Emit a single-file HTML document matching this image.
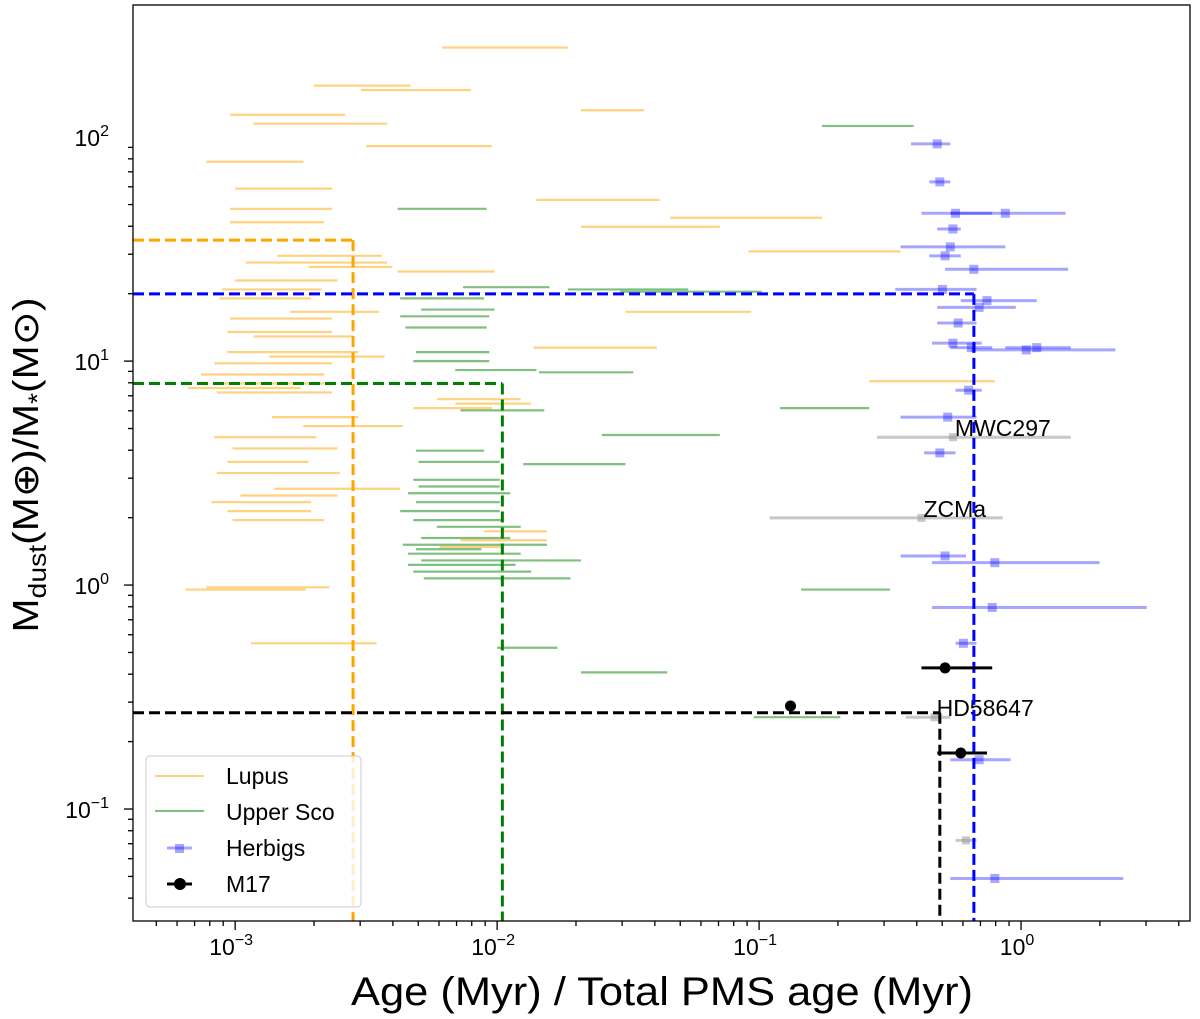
<!DOCTYPE html>
<html><head><meta charset="utf-8">
<style>
html,body{margin:0;padding:0;background:#fff;}
svg{display:block;font-family:"Liberation Sans","DejaVu Sans",sans-serif;}
</style></head>
<body>
<svg id="chart" width="1200" height="1019" viewBox="0 0 1200 1019" xmlns="http://www.w3.org/2000/svg">
<rect x="133" y="5" width="1057" height="916" fill="#fff" stroke="none"/>
<g id="marks"></g>
<rect x="133" y="5" width="1057" height="916" fill="none" stroke="#000" stroke-width="1.3"/>
<g id="axes"></g>
<text x="662" y="1005" font-size="40" text-anchor="middle" textLength="622" lengthAdjust="spacingAndGlyphs">Age (Myr) / Total PMS age (Myr)</text>
<text transform="translate(38,465) rotate(-90)" font-size="36" text-anchor="middle" textLength="335" lengthAdjust="spacingAndGlyphs">M<tspan font-size="25" dy="8">dust</tspan><tspan dy="-8">(M</tspan><tspan>⊕</tspan>)/M<tspan font-size="25" dy="8">*</tspan><tspan dy="-8">(M</tspan>⊙)</text>
<g>
<rect x="146" y="756" width="215" height="151" rx="4" fill="#fff" fill-opacity="0.8" stroke="#ccc"/>
<g><line x1="155" y1="776" x2="204" y2="776" stroke="orange" stroke-opacity="0.5" stroke-width="2"/><text x="226" y="784" font-size="23">Lupus</text></g>
<g><line x1="155" y1="811" x2="204" y2="811" stroke="green" stroke-opacity="0.5" stroke-width="2"/><text x="226" y="820" font-size="23">Upper Sco</text></g>
<g><line x1="167" y1="848" x2="192" y2="848" stroke="blue" stroke-opacity="0.35" stroke-width="3"/><rect x="175" y="844" width="9" height="9" fill="blue" fill-opacity="0.35"/><text x="226" y="856" font-size="23">Herbigs</text></g>
<g><line x1="167" y1="884" x2="192" y2="884" stroke="#000" stroke-width="3"/><circle cx="180" cy="884" r="6" fill="#000"/><text x="226" y="892" font-size="23">M17</text></g>
</g>
</svg>
<script>
// Data in log10 units: x = log10(age ratio), y = log10(Mdust/M*)
const lupusAgeMinLog=[-2.21,-1.68,-2.70,-2.52,-3.02,-2.93,-2.50,-3.11,-3.00,-1.85,-3.02,-1.34,-3.02,-1.68,-1.04,-2.84,-2.96,-2.72,-2.38,-3.00,-3.05,-3.06,-2.79,-3.02,-3.03,-2.93,-1.51,-1.86,-3.03,-2.87,-3.08,-3.13,-3.08,-3.18,-3.07,-0.58,-2.23,-2.16,-2.32,-2.86,-2.74,-3.08,-3.01,-3.03,-3.07,-2.85,-2.98,-3.09,-3.03,-3.01,-2.05,-2.14,-2.22,-3.19,-3.11,-2.94];
const lupusAgeMaxLog=[-1.73,-1.44,-2.33,-2.10,-2.58,-2.42,-2.02,-2.74,-2.63,-1.38,-2.63,-0.76,-2.66,-1.15,-0.46,-2.44,-2.42,-2.40,-2.01,-2.61,-2.67,-2.71,-2.45,-2.63,-2.63,-2.55,-1.03,-1.39,-2.53,-2.43,-2.63,-2.66,-2.66,-2.75,-2.63,-0.10,-1.91,-1.87,-2.02,-2.53,-2.36,-2.69,-2.61,-2.72,-2.60,-2.37,-2.61,-2.71,-2.71,-2.66,-1.81,-1.81,-1.98,-2.73,-2.64,-2.46];
const lupusMassLog=[2.40,2.12,2.23,2.21,2.10,2.06,1.96,1.89,1.77,1.72,1.68,1.64,1.62,1.60,1.49,1.47,1.44,1.42,1.40,1.36,1.32,1.28,1.22,1.19,1.13,1.11,1.22,1.06,1.04,1.02,0.99,0.94,0.90,0.88,0.86,0.91,0.83,0.81,0.79,0.75,0.71,0.66,0.61,0.55,0.50,0.43,0.40,0.37,0.33,0.29,0.24,0.20,0.17,-0.02,-0.01,-0.26];
const uscoAgeMinLog=[-0.76,-2.38,-2.13,-1.73,-1.53,-2.37,-2.29,-2.37,-2.35,-2.31,-2.32,-2.16,-1.84,-0.92,-2.14,-1.60,-2.31,-2.30,-1.90,-2.32,-2.30,-2.34,-2.31,-2.37,-2.32,-2.23,-2.29,-2.36,-2.31,-2.34,-2.29,-2.34,-2.32,-2.28,-0.84,-2.00,-1.68,-1.02];
const uscoAgeMaxLog=[-0.41,-2.04,-1.80,-1.27,-0.99,-2.05,-2.01,-2.03,-2.04,-2.03,-2.03,-1.85,-1.48,-0.58,-1.82,-1.15,-2.05,-1.99,-1.51,-1.99,-1.99,-1.95,-1.99,-1.99,-1.98,-1.91,-1.95,-1.81,-2.06,-1.91,-1.68,-1.93,-1.87,-1.72,-0.50,-1.77,-1.35,-0.69];
const uscoMassLog=[2.05,1.68,1.33,1.32,1.31,1.28,1.23,1.20,1.15,1.04,1.00,0.96,0.95,0.79,0.78,0.67,0.60,0.55,0.54,0.47,0.44,0.41,0.37,0.33,0.29,0.26,0.21,0.18,0.16,0.14,0.11,0.09,0.06,0.03,-0.02,-0.28,-0.39,-0.59];
const herbigAgeLog=[-0.32,-0.31,-0.25,-0.06,-0.26,-0.27,-0.29,-0.18,-0.30,-0.13,-0.16,-0.24,-0.26,-0.19,0.02,0.06,-0.20,-0.28,-0.31,-0.29,-0.10,-0.11,-0.22,-0.16,-0.10];
const herbigAgeMinLog=[-0.42,-0.35,-0.38,-0.27,-0.32,-0.46,-0.35,-0.29,-0.48,-0.23,-0.32,-0.32,-0.34,-0.27,-0.19,-0.06,-0.25,-0.46,-0.37,-0.46,-0.34,-0.34,-0.25,-0.27,-0.27];
const herbigAgeMaxLog=[-0.27,-0.27,-0.11,0.17,-0.23,-0.06,-0.23,0.18,-0.17,0.06,-0.02,-0.17,-0.15,-0.11,0.36,0.19,-0.15,-0.17,-0.25,-0.21,0.30,0.48,-0.17,-0.04,0.39];
const herbigMassLog=[1.97,1.80,1.66,1.66,1.59,1.51,1.47,1.41,1.32,1.27,1.24,1.17,1.08,1.06,1.05,1.06,0.87,0.75,0.59,0.13,0.10,-0.10,-0.26,-0.78,-1.31];
const greyNames=["MWC297","ZCMa","HD58647",""];
const greyAgeLog=[-0.26,-0.38,-0.33,-0.21];
const greyAgeMinLog=[-0.55,-0.96,-0.44,-0.25];
const greyAgeMaxLog=[0.19,-0.07,-0.27,-0.17];
const greyMassLog=[0.66,0.30,-0.59,-1.14];
const m17AgeLog=[-0.88,-0.29,-0.23];
const m17AgeMinLog=[-0.88,-0.38,-0.32];
const m17AgeMaxLog=[-0.88,-0.11,-0.13];
const m17MassLog=[-0.54,-0.37,-0.75];
const medianNames=["lupus","herbig","usco","m17"];
const medianAgeLog=[-2.55,-0.18,-1.98,-0.31];
const medianMassLog=[1.54,1.30,0.90,-0.57];
const medianColors=["orange","blue","green","black"];
const xTickExp=[-3,-2,-1,0];
const yTickExp=[-1,1,2,0];

const NS="http://www.w3.org/2000/svg";
const X0=133,X1=1190,Y0=5,Y1=921;
const xmin=-3.39,xmax=0.645,ymin=-1.50,ymax=2.59;
function sx(l){return X0+(l-xmin)/(xmax-xmin)*(X1-X0);}
function sy(l){return Y1-(l-ymin)/(ymax-ymin)*(Y1-Y0);}
const marks=document.getElementById('marks');
const axes=document.getElementById('axes');
function mk(tag,attrs,parent){const e=document.createElementNS(NS,tag);for(const k in attrs)e.setAttribute(k,attrs[k]);(parent||marks).appendChild(e);return e;}

for(let i=0;i<lupusMassLog.length;i++){
 const e=mk('line',{x1:sx(lupusAgeMinLog[i]),x2:sx(lupusAgeMaxLog[i]),y1:sy(lupusMassLog[i]),y2:sy(lupusMassLog[i]),stroke:'orange','stroke-opacity':0.5,'stroke-width':2.2});
 
 
}
for(let i=0;i<uscoMassLog.length;i++){
 const e=mk('line',{x1:sx(uscoAgeMinLog[i]),x2:sx(uscoAgeMaxLog[i]),y1:sy(uscoMassLog[i]),y2:sy(uscoMassLog[i]),stroke:'green','stroke-opacity':0.5,'stroke-width':2.2});
 
 
}
for(let i=0;i<greyMassLog.length;i++){
 const y=sy(greyMassLog[i]);
 const e=mk('line',{x1:sx(greyAgeMinLog[i]),x2:sx(greyAgeMaxLog[i]),y1:y,y2:y,stroke:'#999','stroke-opacity':0.55,'stroke-width':3});
 
 
 const p=mk('rect',{x:sx(greyAgeLog[i])-4,y:y-4,width:8,height:8,fill:'#999','fill-opacity':0.55});
 
 
 if(greyNames[i]){
  const t=mk('text',{x:sx(greyAgeLog[i])+2,y:y-1,'font-size':23});
  t.textContent=greyNames[i];
  
  
 }
}
for(let i=0;i<herbigMassLog.length;i++){
 const y=sy(herbigMassLog[i]);
 const e=mk('line',{x1:sx(herbigAgeMinLog[i]),x2:sx(herbigAgeMaxLog[i]),y1:y,y2:y,stroke:'blue','stroke-opacity':0.35,'stroke-width':3});
 
 
 const p=mk('rect',{x:sx(herbigAgeLog[i])-4.5,y:y-4.5,width:9,height:9,fill:'blue','fill-opacity':0.35});
 
 
}
for(let i=0;i<medianNames.length;i++){
 const x=sx(medianAgeLog[i]),y=sy(medianMassLog[i]);
 const h=mk('line',{x1:X0,x2:x,y1:y,y2:y,stroke:medianColors[i],'stroke-width':3,'stroke-dasharray':'11,5'});
 
 
 const v=mk('line',{x1:x,x2:x,y1:y,y2:Y1,stroke:medianColors[i],'stroke-width':3,'stroke-dasharray':'11,5'});
 
 
}
for(let i=0;i<m17MassLog.length;i++){
 const y=sy(m17MassLog[i]);
 const e=mk('line',{x1:sx(m17AgeMinLog[i]),x2:sx(m17AgeMaxLog[i]),y1:y,y2:y,stroke:'#000','stroke-width':3});
 
 
 const p=mk('circle',{cx:sx(m17AgeLog[i]),cy:y,r:5.5,fill:'#000'});
 
 
}
for(let d=-4;d<=1;d++){
 for(let m=1;m<10;m++){
  const l=d+Math.log10(m);
  if(l>=xmin&&l<=xmax){
   const x=sx(l);
   const t=mk('line',{x1:x,x2:x,y1:Y1,y2:Y1+(m==1?9:5),stroke:'#000','stroke-width':1.3},axes);
   
   
  }
  if(l>=ymin&&l<=ymax){
   const y=sy(l);
   const t=mk('line',{x1:X0,x2:X0-(m==1?9:5),y1:y,y2:y,stroke:'#000','stroke-width':1.3},axes);
   
   
  }
 }
}
for(const e of xTickExp){
 const t=mk('text',{x:sx(e)-4,y:Y1+34,'font-size':23,'text-anchor':'middle'},axes);
 
 
 t.innerHTML='10<tspan font-size="16" dy="-10">'+(e<0?'−'+(-e):e)+'</tspan>';
}
for(const e of yTickExp){
 const t=mk('text',{x:X0-24,y:sy(e)+9,'font-size':23,'text-anchor':'end'},axes);
 
 
 t.innerHTML='10<tspan font-size="16" dy="-10">'+(e<0?'−'+(-e):e)+'</tspan>';
}
</script>
</body></html>
